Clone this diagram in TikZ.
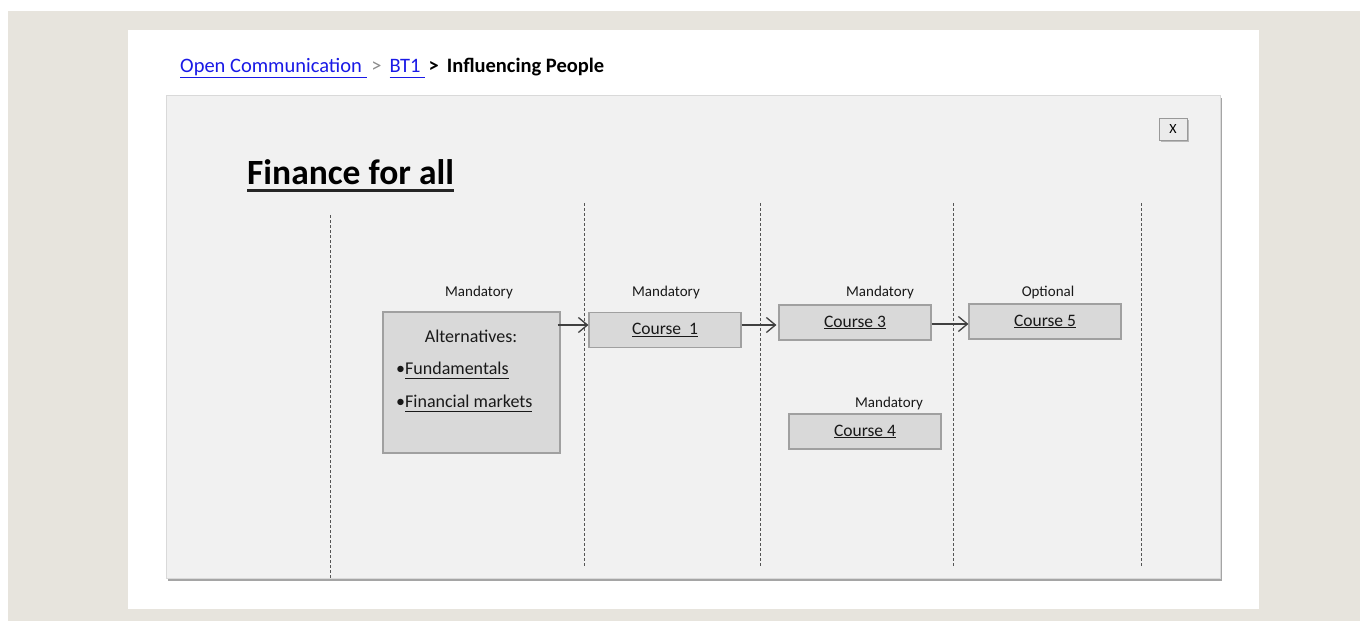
\documentclass[tikz,border=0pt]{standalone}
\usepackage{fontspec}
\setmainfont{Carlito}
\usetikzlibrary{arrows.meta,shadows}
\definecolor{beige}{HTML}{E7E4DD}
\definecolor{panelgray}{HTML}{F1F1F1}
\definecolor{boxfill}{HTML}{D9D9D9}
\definecolor{boxdraw}{HTML}{A0A0A0}
\definecolor{dashcol}{HTML}{555555}
\definecolor{linkblue}{HTML}{1A1AE6}
\definecolor{arrcol}{HTML}{404040}
\newcommand{\myul}[1]{\underline{#1\vphantom{p}}}
\newcommand{\cul}[1]{\raisebox{-2pt}{\underline{#1}}}
\tikzset{
  course/.style={draw=boxdraw, fill=boxfill, line width=1.2pt, minimum width=152pt, minimum height=35pt, inner sep=0pt, font=\fontsize{17.5}{20}\selectfont, text=black!90},
  lbl/.style={inner sep=0pt, font=\fontsize{15}{18}\selectfont, text=black!90},
  boxtxt/.style={inner sep=0pt, font=\fontsize{18}{21}\selectfont, text=black!90},
  sep/.style={draw=dashcol, dashed, dash pattern=on 3pt off 2pt, line width=1pt},
  arr/.style={draw=arrcol, line width=1.3pt, -{Straight Barb[length=9pt,width=15pt,line width=1.3pt]}},
}
\begin{document}
\begin{tikzpicture}[x=1pt,y=-1pt]
\useasboundingbox (0,0) rectangle (1360,621);
\fill[white] (0,0) rectangle (1360,621);
\fill[beige] (8,11) rectangle (1360,621);
\fill[white] (128,30) rectangle (1259,609);
% panel
\path[fill=panelgray, draw=black!15, drop shadow={shadow xshift=2pt, shadow yshift=-3pt, opacity=0.5, fill=black!70}] (166,95) rectangle (1220,578);
% breadcrumb
\node[anchor=base west, inner sep=0pt, font=\fontsize{20.5}{24}\selectfont] (crumb) at (180,72)
  {\textcolor{linkblue}{\myul{Open Communication }}\textcolor{black!45}{\ >\ \,}\textcolor{linkblue}{\myul{BT1 }}\,\textbf{>\ \,Influencing People}};
% close button
\node[draw=black!40, fill=black!8, minimum width=28pt, minimum height=22pt, inner sep=0pt, font=\fontsize{14}{16}\selectfont, drop shadow={shadow xshift=1.5pt, shadow yshift=-2pt, opacity=0.4, fill=black!60}] (close) at (1173,129) {X};
% title
\node[anchor=base west, inner sep=0pt, font=\bfseries\fontsize{35.5}{40}\selectfont] (title) at (247,184) {Finance for all};
\draw[line width=3pt, black!85] (title.base west) ++(0,6) -- ([yshift=-6pt]title.base east);
% separators
\coordinate (s1t) at (330,215); \coordinate (s1b) at (330,578);
\coordinate (s2t) at (584,203); \coordinate (s2b) at (584,566);
\coordinate (s3t) at (760,203); \coordinate (s3b) at (760,566);
\coordinate (s4t) at (953,203); \coordinate (s4b) at (953,566);
\coordinate (s5t) at (1141,203); \coordinate (s5b) at (1141,566);
\draw[sep] (s1t) -- (s1b);
\draw[sep] (s2t) -- (s2b);
\draw[sep] (s3t) -- (s3b);
\draw[sep] (s4t) -- (s4b);
\draw[sep] (s5t) -- (s5b);
% alternatives box
\node[draw=boxdraw, fill=boxfill, line width=1.2pt, minimum width=177pt, minimum height=141pt, inner sep=0pt] (alt) at (471.5,382.5) {};
\node[boxtxt] (altt) at (471,336) {Alternatives:};
\node[boxtxt, anchor=base west] (fund) at (396,374) {\textbullet\myul{Fundamentals}};
\node[boxtxt, anchor=base west] (finm) at (396,407) {\textbullet\myul{Financial markets}};
% courses
\node[course] (c1) at (665,330) {\cul{Course~~1}};
\node[course] (c3) at (855,322.5) {\cul{Course 3}};
\node[course] (c5) at (1045,321.5) {\cul{Course 5}};
\node[course] (c4) at (865,431.5) {\cul{Course 4}};
% labels
\node[lbl] (l0) at (479,292) {Mandatory};
\node[lbl] (l1) at (666,292) {Mandatory};
\node[lbl] (l3) at (880,292) {Mandatory};
\node[lbl] (l5) at (1048,292) {Optional};
\node[lbl] (l4) at (889,403) {Mandatory};
% arrows
\draw[arr] ([xshift=-3pt]alt.east |- 0,325) -- (c1.west |- 0,325);
\draw[arr] (c1.east |- 0,325) -- ([xshift=-2pt]c3.west |- 0,325);
\draw[arr] (c3.east |- 0,324) -- (c5.west |- 0,324);
\end{tikzpicture}
\end{document}
